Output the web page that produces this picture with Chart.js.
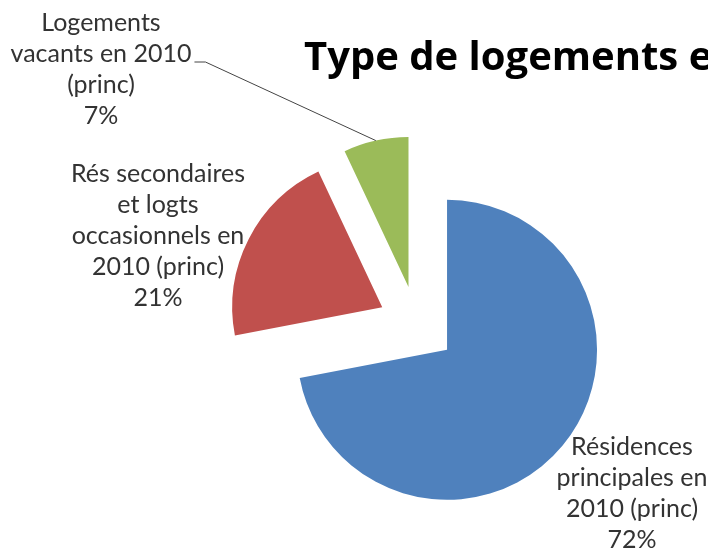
<!DOCTYPE html>
<html>
<head>
<meta charset="utf-8">
<script src="https://cdn.jsdelivr.net/npm/chart.js@4.4.0/dist/chart.umd.min.js"></script>
<style>
  html, body { margin: 0; padding: 0; background: #fff; }
  #wrap { width: 708px; height: 554px; }
</style>
</head>
<body>
<div id="wrap"><canvas id="chart"></canvas></div>
<script>
const titleText = "Type de logements en 2010";

// catégories (une ligne par élément) et valeurs
const categories = [
  ["Résidences", "principales en", "2010 (princ)"],
  ["Rés secondaires", "et logts", "occasionnels en", "2010 (princ)"],
  ["Logements", "vacants en 2010", "(princ)"]
];
const values = [72, 21, 7];
const colors = ["#4F81BD", "#C0504D", "#9BBB59"];

// mise en page
const explode = 39;
const labelFont = '25px Lato';
const lineGap = 31;
// position des étiquettes par rapport au centre du camembert (x = centre du texte, y = 1re ligne)
const labelOffsets = [[215, 130], [-259, -143], [-316, -294]];

const total = values.reduce((a, b) => a + b, 0);

// décaler chaque part le long de sa bissectrice
const explodePlugin = {
  id: 'explode',
  beforeDatasetsDraw(chart) {
    const a = chart.chartArea;
    const cx = (a.left + a.right) / 2;
    const cy = (a.top + a.bottom) / 2;
    chart.getDatasetMeta(0).data.forEach(arc => {
      const mid = (arc.startAngle + arc.endAngle) / 2;
      arc.x = cx + Math.cos(mid) * explode;
      arc.y = cy + Math.sin(mid) * explode;
    });
  }
};

// titre + étiquettes de données
const labelPlugin = {
  id: 'labels',
  afterDatasetsDraw(chart) {
    const ctx = chart.ctx;
    const a = chart.chartArea;
    const cx = (a.left + a.right) / 2;
    const cy = (a.top + a.bottom) / 2;
    ctx.save();

    ctx.fillStyle = '#000';
    ctx.font = 'bold 40px "Open Sans"';
    ctx.textAlign = 'left';
    ctx.textBaseline = 'alphabetic';
    ctx.fillText(titleText, 304, 70);

    ctx.font = labelFont;
    ctx.textAlign = 'center';
    ctx.fillStyle = '#333';
    const arcs = chart.getDatasetMeta(0).data;
    categories.forEach((lines, i) => {
      const pct = Math.round(values[i] / total * 100) + '%';
      const all = lines.concat([pct]);
      const x = cx + labelOffsets[i][0];
      const y = cy + labelOffsets[i][1];
      all.forEach((t, k) => ctx.fillText(t, x, y + k * lineGap));

      // ligne de rappel pour la petite part
      if (i === 2) {
        const arc = arcs[i];
        const mid = (arc.startAngle + arc.endAngle) / 2;
        const w = ctx.measureText(lines[1]).width;
        const sx = x + w / 2 + 3;
        const sy = y + lineGap;
        ctx.strokeStyle = '#444';
        ctx.lineWidth = 1;
        ctx.beginPath();
        ctx.moveTo(sx, sy);
        ctx.lineTo(sx + 11, sy);
        ctx.lineTo(arc.x + Math.cos(mid) * arc.outerRadius, arc.y + Math.sin(mid) * arc.outerRadius);
        ctx.stroke();
      }
    });
    ctx.restore();
  }
};

new Chart(document.getElementById('chart'), {
  type: 'pie',
  data: {
    labels: categories,
    datasets: [{
      data: values,
      backgroundColor: colors,
      borderWidth: 0,
      clip: false
    }]
  },
  options: {
    responsive: true,
    maintainAspectRatio: false,
    animation: false,
    radius: 150,
    layout: { padding: { left: 126, top: 96, right: 0, bottom: 0 } },
    plugins: {
      legend: { display: false },
      tooltip: { enabled: false },
      title: { display: false }
    }
  },
  plugins: [explodePlugin, labelPlugin]
});
</script>
</body>
</html>
